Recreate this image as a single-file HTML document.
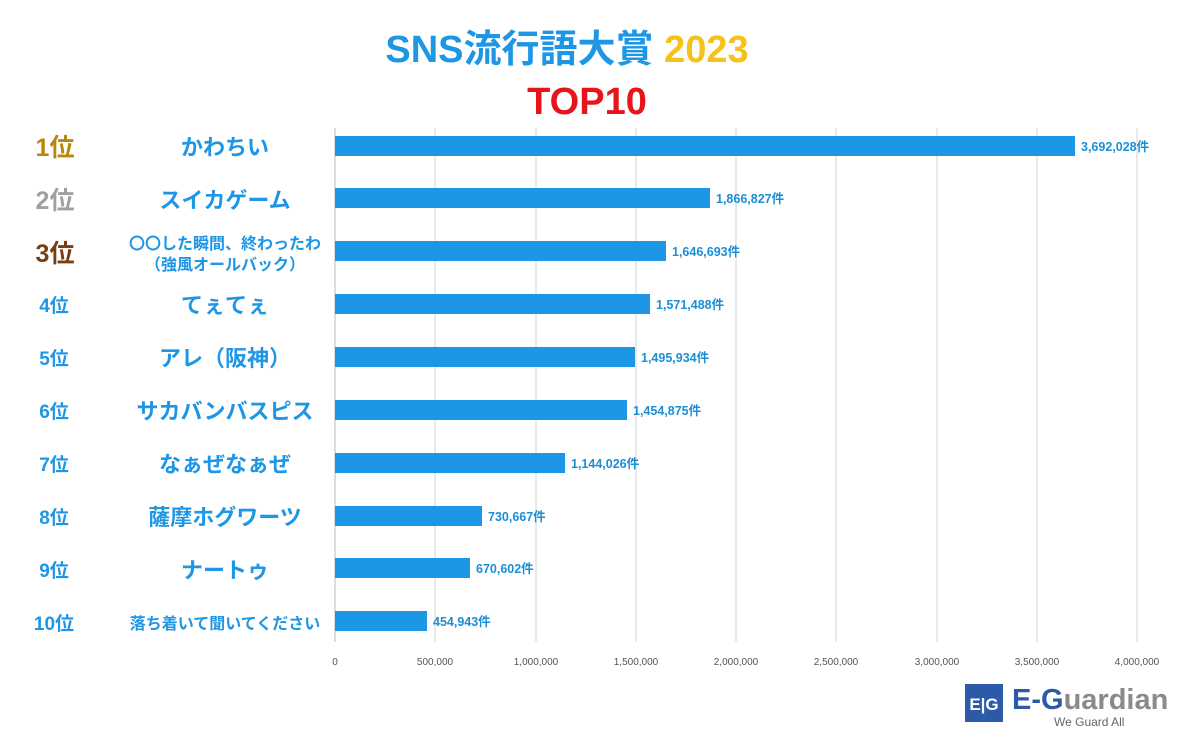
<!DOCTYPE html>
<html><head><meta charset="utf-8"><style>
body{margin:0;background:#fff}
text{font-family:"Liberation Sans","Noto Sans CJK JP",sans-serif;font-weight:bold}
text.n{font-weight:normal}
</style></head><body>
<svg width="1200" height="747" viewBox="0 0 1200 747" xmlns="http://www.w3.org/2000/svg">
<rect width="1200" height="747" fill="#fff"/>
<text x="567" y="62" text-anchor="middle" font-size="38" fill="#1e96e6">SNS流行語大賞 <tspan fill="#f5c21b">2023</tspan></text>
<text x="587" y="114" text-anchor="middle" font-size="38" fill="#e8141b">TOP10</text>
<g stroke="#e2e2e2" stroke-width="1.5">
<line x1="335" y1="128" x2="335" y2="642" stroke="#d0d0d0"/>
<line x1="435" y1="128" x2="435" y2="642"/><line x1="536" y1="128" x2="536" y2="642"/>
<line x1="636" y1="128" x2="636" y2="642"/><line x1="736" y1="128" x2="736" y2="642"/>
<line x1="836" y1="128" x2="836" y2="642"/><line x1="937" y1="128" x2="937" y2="642"/>
<line x1="1037" y1="128" x2="1037" y2="642"/><line x1="1137" y1="128" x2="1137" y2="642"/>
</g>
<g font-size="10" fill="#555" text-anchor="middle">
<text class="n" x="335" y="665">0</text><text class="n" x="435" y="665">500,000</text>
<text class="n" x="536" y="665">1,000,000</text><text class="n" x="636" y="665">1,500,000</text>
<text class="n" x="736" y="665">2,000,000</text><text class="n" x="836" y="665">2,500,000</text>
<text class="n" x="937" y="665">3,000,000</text><text class="n" x="1037" y="665">3,500,000</text>
<text class="n" x="1137" y="665">4,000,000</text>
</g>
<g fill="#1e96e6">
<rect x="335" y="136" width="740" height="20"/>
<rect x="335" y="188" width="375" height="20"/>
<rect x="335" y="241" width="331" height="20"/>
<rect x="335" y="294" width="315" height="20"/>
<rect x="335" y="347" width="300" height="20"/>
<rect x="335" y="400" width="292" height="20"/>
<rect x="335" y="453" width="230" height="20"/>
<rect x="335" y="506" width="147" height="20"/>
<rect x="335" y="558" width="135" height="20"/>
<rect x="335" y="611" width="92" height="20"/>
</g>
<g font-size="12.5" fill="#1a8fd6">
<text x="1081" y="151">3,692,028件</text>
<text x="716" y="203">1,866,827件</text>
<text x="672" y="256">1,646,693件</text>
<text x="656" y="309">1,571,488件</text>
<text x="641" y="362">1,495,934件</text>
<text x="633" y="415">1,454,875件</text>
<text x="571" y="468">1,144,026件</text>
<text x="488" y="521">730,667件</text>
<text x="476" y="573">670,602件</text>
<text x="433" y="626">454,943件</text>
</g>
<g text-anchor="middle" font-size="25">
<text x="55" y="156" fill="#b8860b">1位</text>
<text x="55" y="209" fill="#a0a0a0">2位</text>
<text x="55" y="262" fill="#7a3d12">3位</text>
</g>
<g text-anchor="middle" font-size="19" fill="#1e96e6">
<text x="54" y="312">4位</text><text x="54" y="365">5位</text><text x="54" y="418">6位</text>
<text x="54" y="471">7位</text><text x="54" y="524">8位</text><text x="54" y="577">9位</text>
<text x="54" y="630">10位</text>
</g>
<g text-anchor="middle" fill="#1e96e6">
<text x="225" y="155" font-size="22">かわちい</text>
<text x="225" y="208" font-size="22">スイカゲーム</text>
<text x="225" y="249" font-size="16">〇〇した瞬間、終わったわ</text>
<text x="225" y="270" font-size="16">（強風オールバック）</text>
<text x="225" y="313" font-size="22">てぇてぇ</text>
<text x="225" y="366" font-size="22">アレ（阪神）</text>
<text x="225" y="419" font-size="22">サカバンバスピス</text>
<text x="225" y="472" font-size="22">なぁぜなぁぜ</text>
<text x="225" y="525" font-size="22">薩摩ホグワーツ</text>
<text x="225" y="578" font-size="22">ナートゥ</text>
<text x="225" y="629" font-size="16">落ち着いて聞いてください</text>
</g>
<rect x="965" y="684" width="38" height="38" fill="#2d5aa8"/>
<text x="984" y="710" text-anchor="middle" font-size="17" fill="#fff">E|G</text>
<text x="1012" y="709" font-size="29" fill="#2d5aa8">E-G<tspan fill="#8a8a8a">uardian</tspan></text>
<text class="n" x="1054" y="726" font-size="12" fill="#666">We Guard All</text>
</svg>
</body></html>
